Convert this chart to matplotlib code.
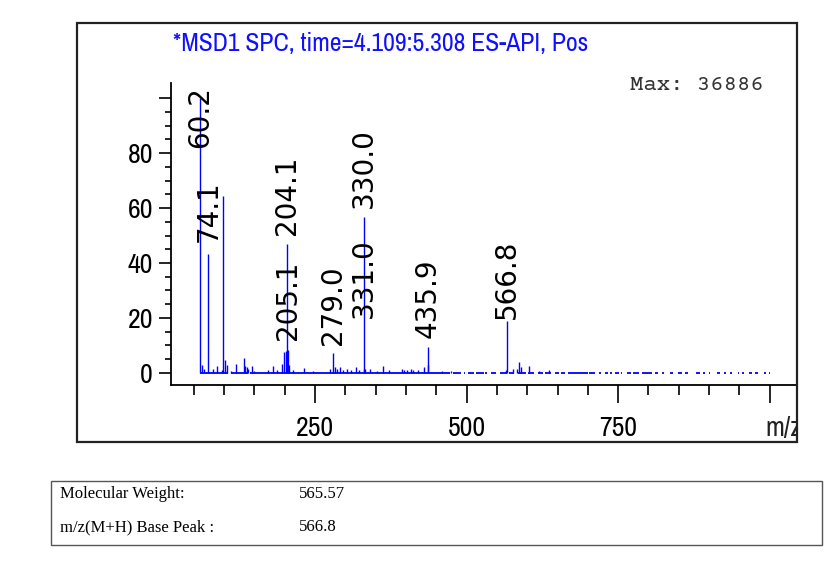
import matplotlib
matplotlib.use('Agg')
import matplotlib.pyplot as plt
import matplotlib.patches as patches
import numpy as np

narrow = ['Archivo Narrow', 'Liberation Sans', 'DejaVu Sans']
plt.rcParams['font.family'] = narrow

# labelled peaks (m/z, relative abundance %)
peak_mz = [60.2, 74.1, 98.2, 204.1, 205.1, 279.0, 330.0, 331.0, 435.9, 566.8]
peak_int = [100, 43.3, 64.5, 46.8, 8.4, 7.2, 56.8, 1.5, 9.3, 19.0]

# annotation text and where its foot sits (abundance units)
label_mz = [60.2, 74.1, 204.1, 205.1, 279.0, 330.0, 331.0, 435.9, 566.8]
label_txt = ['60.2', '74.1', '204.1', '205.1', '279.0', '330.0', '331.0', '435.9', '566.8']
label_y = [81.8, 47.6, 50.2, 12.0, 10.2, 60.0, 20.0, 12.7, 19.5]

# small noise peaks
small_mz = [64, 67, 82, 88, 96, 102, 104, 112, 120, 132, 134, 137, 140, 146, 150,
            173, 181, 188, 195, 199, 202, 207, 214, 232, 246, 274.7, 283, 287, 291,
            296, 302, 310, 317, 322, 333, 340, 352, 362, 372, 393, 397, 402, 408,
            411, 420, 429, 437, 460, 475, 565, 576, 583, 587, 590, 603.6, 620, 636]
small_int = [2.8, 1.5, 1.6, 2.4, 1.2, 4.6, 3.0, 0.8, 3.4, 5.5, 2.5, 2.0, 1.6, 2.4, 0.8,
             1.0, 2.4, 1.2, 3.2, 7.5, 8.0, 3.0, 1.2, 1.8, 0.8, 1.6, 2.0, 1.4, 2.0,
             1.2, 1.6, 1.0, 2.0, 1.2, 1.6, 1.6, 0.8, 2.4, 1.2, 1.6, 1.2, 1.0, 1.4,
             1.2, 1.0, 2.0, 3.0, 0.7, 0.8, 1.2, 1.6, 1.6, 4.0, 2.0, 2.4, 0.8, 1.0]

# stretches of the baseline where data was recorded
base_start = [60, 111, 143, 478, 495, 503, 515, 531, 540, 555, 570, 584, 602, 618, 630,
              645, 655, 667, 702, 718, 728, 737, 745, 754, 764, 775, 790, 810, 822, 835,
              848, 860, 878, 890, 900, 913, 925, 934, 947, 955, 965, 975, 990, 998]
base_end = [106, 140, 472, 490, 497, 512, 528, 533, 548, 567, 578, 598, 612, 626, 640,
            652, 662, 700, 712, 722, 733, 740, 752, 756, 771, 785, 806, 815, 825, 840,
            855, 865, 885, 893, 902, 918, 928, 937, 950, 958, 970, 980, 994, 1000]

title = '*MSD1 SPC, time=4.109:5.308 ES-API, Pos'
max_text = 'Max: 36886'
table_keys = ['Molecular Weight:', 'm/z(M+H) Base Peak :']
table_vals = ['565.57', '566.8']

W, H = 839, 571
fig = plt.figure(figsize=(W / 100, H / 100), dpi=100)

ax = fig.add_axes([171 / W, 1 - 385 / H, 626 / W, 302 / H])
ax.vlines(small_mz, 0, small_int, color='#0000ff', lw=1)
ax.vlines(peak_mz, 0, peak_int, color='#0000ff', lw=1)
ax.hlines(np.zeros(len(base_start)), base_start, base_end, color='#0000ff', lw=1.3)

for x, y, t in zip(label_mz, label_y, label_txt):
    ax.text(x, y, t, rotation=90, ha='center', va='bottom', fontsize=20,
            family='DejaVu Sans', color='black')

ax.set_xlim(12.4, 1045)
ax.set_ylim(-4.4, 105.5)
for s in ['top', 'right']:
    ax.spines[s].set_visible(False)
for s in ['left', 'bottom']:
    ax.spines[s].set_linewidth(1.3)

ax.set_xticks([250, 500, 750, 1000])
ax.set_xticklabels(['250', '500', '750', ''])
ax.set_xticks(np.arange(50, 1000, 50), minor=True)
ax.set_yticks([0, 20, 40, 60, 80, 100])
ax.set_yticklabels(['0', '20', '40', '60', '80', ''])
ax.set_yticks(np.arange(0, 101, 5), minor=True)
ax.tick_params(axis='x', which='major', length=13, width=1.2, pad=9, labelsize=20)
ax.tick_params(axis='x', which='minor', length=7.5, width=1.2)
ax.tick_params(axis='y', which='major', length=9, width=1.2, pad=4, labelsize=20)
ax.tick_params(axis='y', which='minor', length=4.5, width=1.2)

frame = patches.Rectangle((77 / W, 1 - 442 / H), 720 / W, 419 / H, transform=fig.transFigure,
                          fill=False, lw=1.6, edgecolor='#222222')
fig.add_artist(frame)

fig.text(381 / W, 1 - 43 / H, title, ha='center', va='center', fontsize=18.5, color='#1010ff')
fig.text(697 / W, 1 - 85 / H, max_text, ha='center', va='center', fontsize=16,
         family=['Courier Prime', 'Liberation Mono'], color='#333333')
mz = fig.text(765 / W, 1 - 428 / H, 'm/z', ha='left', va='center', fontsize=20, color='#222222')
mz.set_clip_path(frame)

box = patches.Rectangle((51 / W, 1 - 545 / H), 771 / W, 64 / H, transform=fig.transFigure,
                        fill=False, lw=1, edgecolor='#555555')
fig.add_artist(box)
for i, (k, v) in enumerate(zip(table_keys, table_vals)):
    y = 1 - (494 + 33 * i) / H
    fig.text(60 / W, y, k, ha='left', va='center', fontsize=12, family='Liberation Serif')
    fig.text(299 / W, y, v, ha='left', va='center', fontsize=12, family='Liberation Serif')

fig.savefig('out.png', dpi=100)
